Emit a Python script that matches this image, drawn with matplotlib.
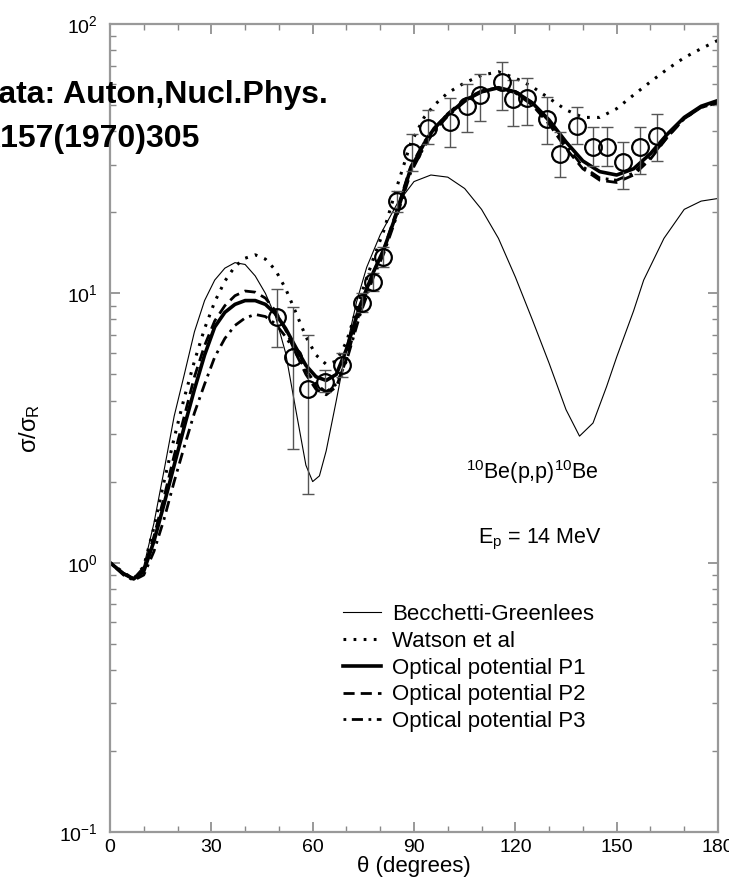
import matplotlib
matplotlib.use("Agg")
import matplotlib.pyplot as plt
from matplotlib.ticker import MultipleLocator, LogLocator, NullFormatter

plt.rcParams['font.family'] = ['Liberation Sans', 'DejaVu Sans']
plt.rcParams['mathtext.fontset'] = 'custom'
plt.rcParams['mathtext.rm'] = 'Liberation Sans'
plt.rcParams['mathtext.it'] = 'Liberation Sans:italic'
plt.rcParams['mathtext.bf'] = 'Liberation Sans:bold'

# angle grid shared by the Watson and P1-P3 curves
theta = [0, 4, 7, 10, 13, 16, 19, 22, 25, 28, 31, 34, 37, 40, 43, 46, 49, 52, 55, 58, 61, 64, 67, 70,
         74, 78, 81, 85, 89, 93, 96, 100,
         105, 110, 115, 120, 125, 130, 135, 140, 145, 150, 155, 160, 165, 170, 175, 180]

watson = [1.0, 0.92, 0.87, 0.97, 1.35, 2.0, 2.9, 4.1, 5.6, 7.4, 9.3, 11.1, 12.6, 13.5, 13.9, 13.4, 12.2, 10.4, 8.5, 6.9, 5.9, 5.45, 5.6, 6.6,
          9.6, 13.5, 17, 25, 36, 45, 50, 55.5,
          60.5, 64.5, 66.5, 63, 58.5, 53, 48, 45, 45, 48.5, 54.5, 61, 68, 75, 81, 87]
p1 = [1.0, 0.91, 0.87, 0.93, 1.2, 1.65, 2.3, 3.2, 4.4, 5.9, 7.5, 8.5, 9.1, 9.4, 9.4, 9.1, 8.4, 7.4, 6.3, 5.4, 4.9, 4.75, 5.0, 6.2,
      9.0, 12.0, 14.5, 20, 29, 36, 41, 46,
      52, 56, 58, 56, 51, 44, 36.5, 31, 28.3, 27.5, 29, 33, 39, 45, 49.5, 52]
p2 = [1.0, 0.91, 0.87, 0.95, 1.25, 1.75, 2.5, 3.5, 4.9, 6.4, 7.9, 9.0, 9.8, 10.2, 10.1, 9.6, 8.6, 7.3, 6.0, 5.0, 4.4, 4.2, 4.5, 5.7,
      8.6, 12, 14.5, 20.5, 29.5, 36.5, 41, 46.5,
      52.5, 56.5, 58, 55.5, 50, 42.5, 34.5, 29, 26.3, 25.8, 27.5, 31.5, 38, 44.5, 49, 51]
p3 = [1.0, 0.9, 0.86, 0.9, 1.1, 1.45, 2.0, 2.7, 3.6, 4.6, 5.8, 6.8, 7.6, 8.1, 8.35, 8.2, 7.7, 6.9, 6.0, 5.2, 4.6, 4.3, 4.6, 5.6,
      8.3, 11.5, 14, 19.5, 28, 35, 40, 45.5,
      51.5, 56, 58, 56, 51, 43.5, 35.5, 29.5, 26.8, 26.3, 28, 32, 38, 44.5, 49, 51]

# Becchetti-Greenlees has its own grid (sharper minima)
theta_bg = [0, 4, 7, 10, 13, 16, 19, 22, 25, 28, 31, 34, 37, 40, 43, 46, 49, 52, 55, 58,
            60, 62, 64, 67, 70, 73, 76, 80, 85, 90, 95, 100, 105, 110, 115, 120, 125, 130, 135, 139,
            143, 147, 150, 155, 158, 164, 170, 175, 180]
becchetti = [1.0, 0.92, 0.88, 0.97, 1.4, 2.2, 3.5, 5.0, 7.2, 9.4, 11.2, 12.4, 13.0, 12.8, 11.6, 10.0, 8.2, 6.0, 3.7, 2.3,
             2.0, 2.1, 2.6, 4.0, 6.3, 9.3, 12.5, 16.5, 21.5, 26, 27.5, 27, 24.5, 20.5, 16, 11.5, 8, 5.5, 3.7, 2.95,
             3.3, 4.5, 5.8, 8.6, 11.2, 16, 20.5, 22, 22.5]

# measured data (Auton 1970) with error bar bounds
theta_data = [49.5, 54.3, 58.7, 63.6, 68.6, 74.5, 78.0, 80.9, 84.9, 89.3, 94.2, 100.6, 105.6,
              109.5, 116.0, 119.4, 123.4, 129.3, 133.2, 138.2, 143.1, 147.0, 152.0, 156.9, 161.8]
sigma_data = [8.2, 5.8, 4.4, 4.7, 5.4, 9.2, 11.0, 13.6, 22.0, 33.5, 41.0, 43.3, 49.4,
              54.4, 60.7, 52.5, 53.0, 44.5, 32.9, 41.9, 34.8, 34.8, 30.7, 34.8, 38.4]
sigma_lo = [6.3, 2.65, 1.8, 4.3, 4.9, 8.5, 10.2, 12.5, 20, 28.5, 36, 35, 39.7,
            43.7, 48, 41.9, 42, 35.7, 27, 35.7, 29.8, 29.8, 24.5, 27.7, 31]
sigma_hi = [10.4, 8.9, 7.0, 5.2, 6.0, 10.0, 11.9, 14.8, 24, 39, 48, 53, 60,
            65, 72, 62, 63, 53.5, 39.7, 49, 41.5, 41.5, 36.5, 41.5, 46.5]

legend_labels = ['Becchetti-Greenlees', 'Watson et al', 'Optical potential P1',
                 'Optical potential P2', 'Optical potential P3']

fig = plt.figure(figsize=(7.29, 8.82), dpi=100)
ax = fig.add_axes([110 / 729, 1 - 832 / 882, 608 / 729, 808 / 882])

ax.plot(theta_bg, becchetti, color='black', lw=0.8, label=legend_labels[0])
ax.plot(theta, watson, color='black', lw=2.2, linestyle=(0, (0.9, 2.4)), label=legend_labels[1])
ax.plot(theta, p1, color='black', lw=2.6, label=legend_labels[2])
ax.plot(theta, p2, color='black', lw=2.0, linestyle=(0, (4, 2.2)), label=legend_labels[3])
ax.plot(theta, p3, color='black', lw=2.0, linestyle=(0, (1, 2, 4, 2)), label=legend_labels[4])

yerr = [[s - lo for s, lo in zip(sigma_data, sigma_lo)],
        [hi - s for s, hi in zip(sigma_data, sigma_hi)]]
ax.errorbar(theta_data, sigma_data, yerr=yerr, fmt='none', ecolor='#555555',
            elinewidth=1.0, capsize=4, capthick=1.0, zorder=4)
ax.plot(theta_data, sigma_data, 'o', mfc='none', mec='black', ms=12, mew=1.6, zorder=5)

ax.set_yscale('log')
ax.set_xlim(0, 180)
ax.set_ylim(0.1, 100)
ax.xaxis.set_major_locator(MultipleLocator(30))
ax.xaxis.set_minor_locator(MultipleLocator(10))
ax.yaxis.set_major_locator(LogLocator(base=10))
ax.yaxis.set_minor_locator(LogLocator(base=10, subs=range(2, 10)))
ax.yaxis.set_minor_formatter(NullFormatter())
ax.tick_params(which='both', direction='in', top=True, right=True, color='#888888', labelsize=14)
ax.tick_params(axis='x', pad=5)
ax.tick_params(axis='y', pad=9)
ax.tick_params(which='major', length=7, width=1.2)
ax.tick_params(which='minor', length=4, width=1.0)
for sp in ax.spines.values():
    sp.set_color('#999999')
    sp.set_linewidth(1.6)

ax.set_xlabel('θ (degrees)', fontsize=16, labelpad=0)
ax.set_ylabel('σ/σ$_\\mathrm{R}$', fontsize=17, labelpad=12)

ax.text((466 - 110) / 608, 0.437, '$^{10}$Be(p,p)$^{10}$Be', transform=ax.transAxes, fontsize=15.5, ha='left')
ax.text((478 - 110) / 608, 0.357, 'E$_\\mathrm{p}$ = 14 MeV', transform=ax.transAxes, fontsize=15.5, ha='left')

ax.legend(loc='upper left', bbox_to_anchor=((343 - 110) / 608, 1 - (604 - 24) / 808),
          frameon=False, fontsize=16, handlelength=1.7, handletextpad=0.5, labelspacing=0.26,
          borderaxespad=0, borderpad=0)

fig.text(-21 / 729, 1 - 103 / 882, 'data: Auton,Nucl.Phys.', fontsize=23, fontweight='bold',
         ha='left', va='baseline')
fig.text(-23 / 729, 1 - 147 / 882, 'A157(1970)305', fontsize=23, fontweight='bold',
         ha='left', va='baseline')

fig.savefig('out.png', dpi=100)
